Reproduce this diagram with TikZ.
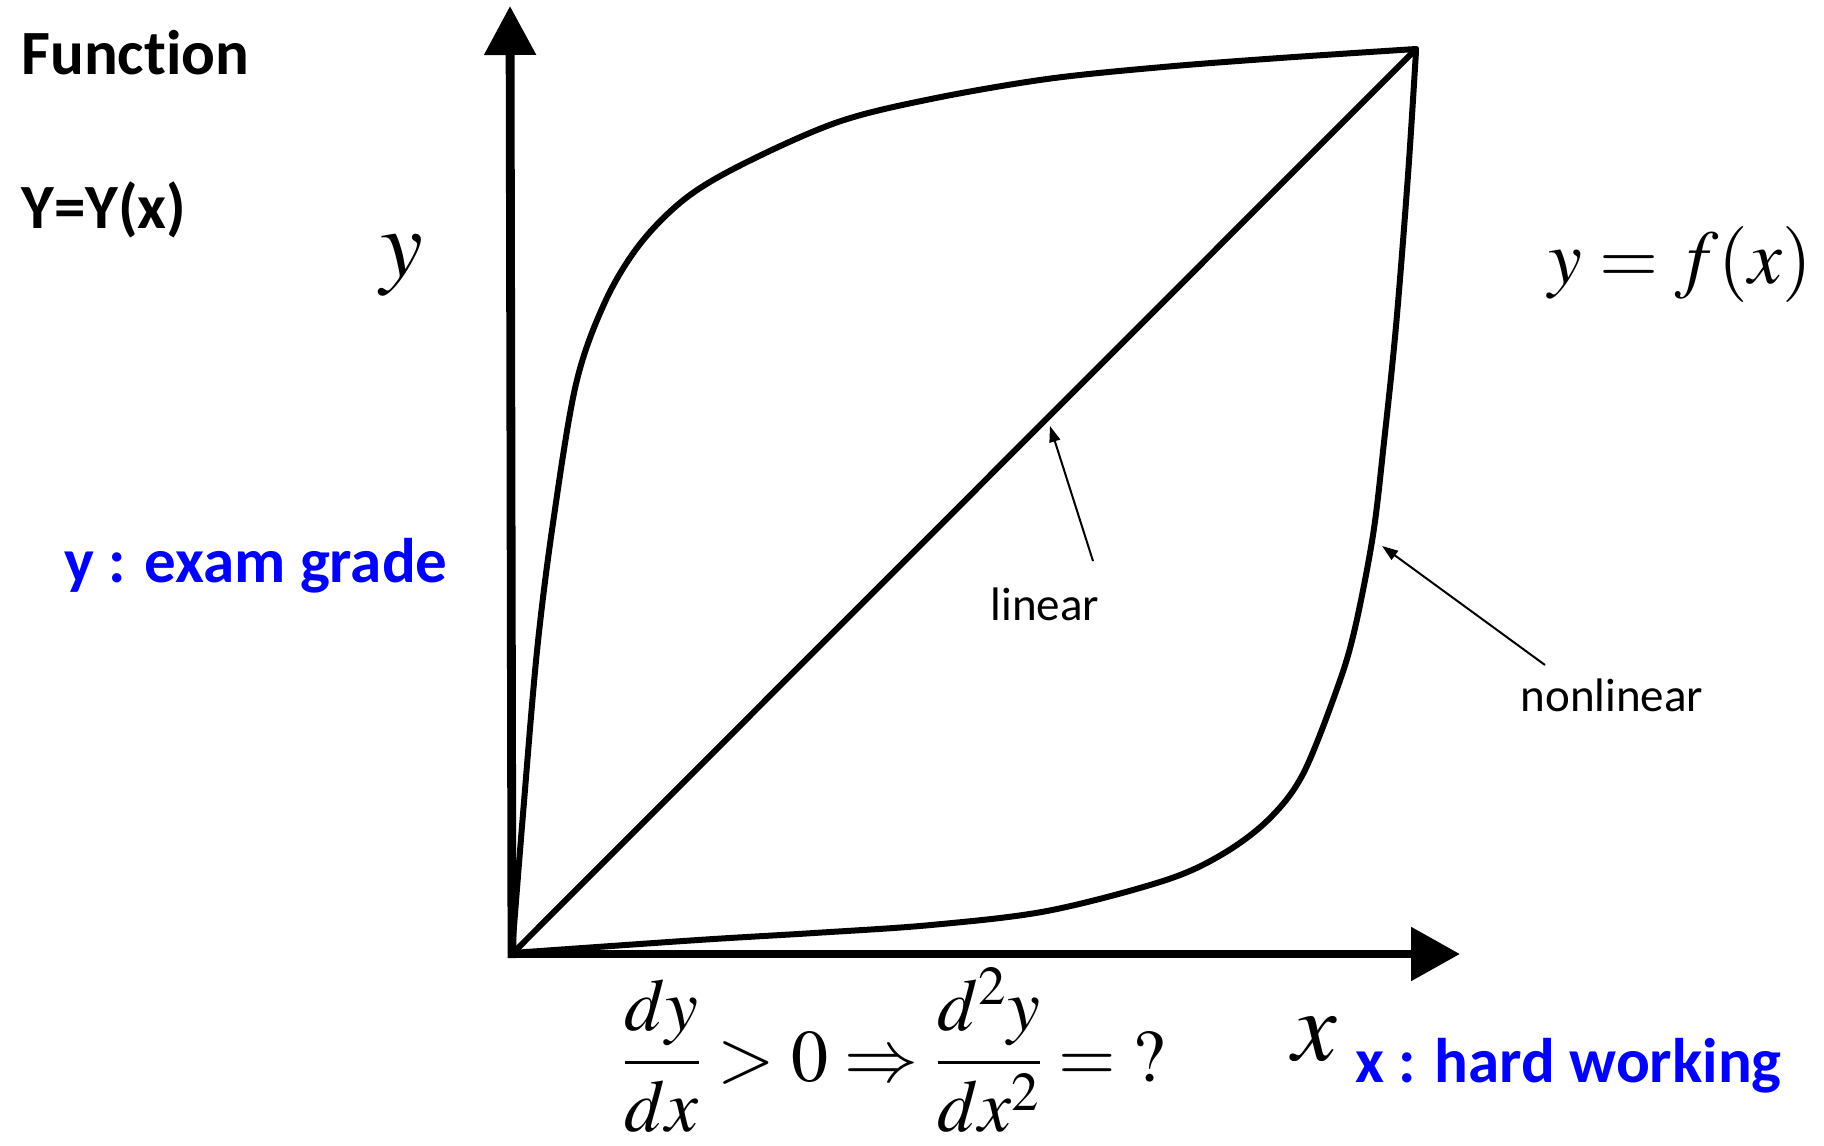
\documentclass[tikz,border=0pt]{standalone}
\usepackage{mathptmx}
\usepackage[no-math]{fontspec}
\setmainfont{Carlito}[Ligatures=NoCommon]
\usetikzlibrary{arrows.meta}
\definecolor{lblblue}{RGB}{0,0,255}
\begin{document}
\begin{tikzpicture}[x=0.5pt,y=-0.5pt,
  axis/.style={line width=4.4pt},
  curve/.style={line width=3pt, line join=round, line cap=round},
  note/.style={line width=1pt,-{Triangle[length=8pt,width=5.5pt]}},
  bigsans/.style={font=\fontsize{31.5}{38}\selectfont\bfseries, anchor=base west, inner sep=0pt},
  bluelbl/.style={font=\fontsize{31.5}{38}\selectfont\bfseries, text=lblblue, anchor=base west, inner sep=0pt},
  notelbl/.style={font=\fontsize{23.5}{28}\selectfont, anchor=base, inner sep=0pt},
  mathlbl/.style={inner sep=0pt}]
\useasboundingbox (0,0) rectangle (1824,1145);
\fill[white] (0,0) rectangle (1824,1145);
% axes
\coordinate (O) at (512,954);
\coordinate (Ob) at (512,958);
\coordinate (Ol) at (508,954);
\coordinate (ytip) at (510,6);
\coordinate (xtip) at (1460,954);
\coordinate (C) at (1416,49);
\draw[axis,-{Triangle[length=24.5pt,width=25pt]}] (Ob) -- (ytip);
\draw[axis,-{Triangle[length=24.5pt,width=26pt]}] (Ol) -- (xtip);
% linear
\draw[curve] (O) -- (C);
% upper curve
\draw[curve] plot[smooth,tension=0.55] coordinates {
 (512,952) (523,814) (537,651) (553,523) (576,384) (605,302) (640,244)
 (686,198) (745,163) (838,122) (931,99) (1047,79) (1163,67) (1280,58) (1416,49)};
% lower curve
\draw[curve] plot[smooth,tension=0.55] coordinates {
 (512,953) (698,940) (814,933) (931,925) (1047,911) (1163,881) (1221,855)
 (1268,820) (1303,774) (1338,686) (1355,628) (1373,535) (1384,442) (1396,326)
 (1408,175) (1416,51)};
% annotations
\coordinate (linS) at (1093,561);
\coordinate (linE) at (1050,426);
\coordinate (nlS) at (1545,665);
\coordinate (nlE) at (1382,546);
\draw[note] (linS) -- (linE);
\draw[note] (nlS) -- (nlE);
% texts
\node[bigsans] (fn) at (21,75) {Function};
\node[bigsans] (yy) at (21,228) {Y=Y(x)};
\node[bluelbl] (yl) at (64,582) {y : exam grade};
\node[bluelbl] (xl) at (1355,1082) {x : hard working};
\node[notelbl] (lin) at (1045,620) {linear};
\node[notelbl] (nl) at (1612,711) {nonlinear};
\node[mathlbl] (ylab) at (402,265) {\fontsize{48}{56}\selectfont$y$};
\node[mathlbl] (xlab) at (1315,1039) {\fontsize{50}{60}\selectfont$x$};
\node[mathlbl] (fx) at (1680,264) {\fontsize{38}{46}\selectfont$y=f(x)$};
\node[mathlbl] (eq) at (894,1050) {\fontsize{37}{44}\selectfont$\displaystyle\frac{dy}{dx}>0\Rightarrow\frac{d^2y}{dx^2}=\;?$};
\end{tikzpicture}
\end{document}
